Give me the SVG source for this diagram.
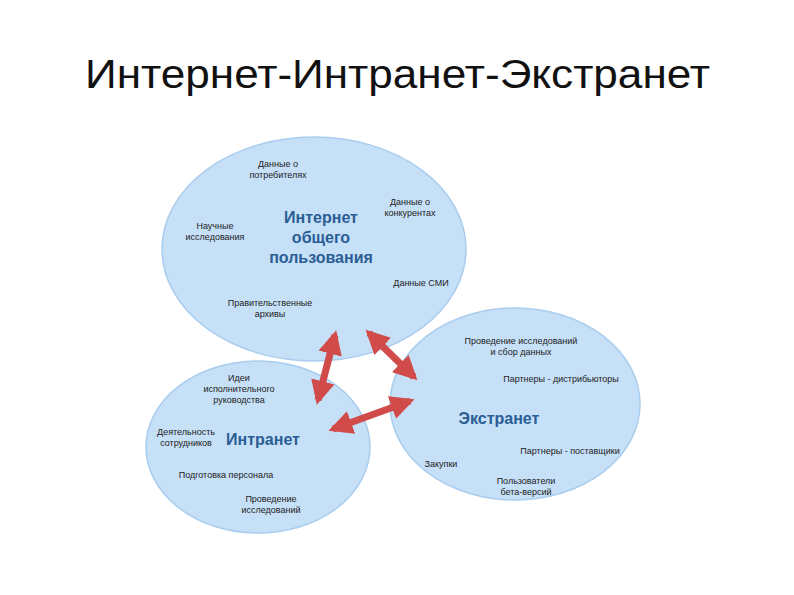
<svg xmlns="http://www.w3.org/2000/svg" width="794" height="595" viewBox="0 0 794 595">
<style>
.e{fill:#c6e0f8;stroke:#a9cdee;stroke-width:1.5}
.t{font-family:"Liberation Sans",Arial,sans-serif;font-size:9px;fill:#222;text-anchor:middle}
.h{font-family:"Liberation Sans",Arial,sans-serif;font-size:16px;font-weight:bold;fill:#2a5d94;text-anchor:middle}
.a{stroke:#d24b4b;stroke-width:7;fill:none;marker-start:url(#m);marker-end:url(#m)}
</style>
<defs><marker id="m" viewBox="0 0 10 10" refX="8" refY="5" markerWidth="24" markerHeight="24" markerUnits="userSpaceOnUse" orient="auto-start-reverse"><path d="M0,0L10,5L0,10z" fill="#d24b4b"/></marker></defs>
<rect width="794" height="595" fill="#fff"/>
<text x="85" y="88" font-family="Liberation Sans,Arial,sans-serif" font-size="40" textLength="625" lengthAdjust="spacingAndGlyphs" fill="#111">Интернет-Интранет-Экстранет</text>
<g id="internet"><ellipse class="e" cx="314" cy="249" rx="152" ry="112"/>
<text class="h" x="321" y="223">Интернет</text><text class="h" x="321" y="243">общего</text><text class="h" x="321" y="263">пользования</text>
<text class="t" x="278" y="167">Данные о</text><text class="t" x="278" y="178">потребителях</text>
<text class="t" x="410" y="205">Данные о</text><text class="t" x="410" y="216">конкурентах</text>
<text class="t" x="215" y="229">Научные</text><text class="t" x="215" y="240">исследования</text>
<text class="t" x="421" y="286">Данные СМИ</text>
<text class="t" x="270" y="306">Правительственные</text><text class="t" x="270" y="317">архивы</text></g>
<g id="intranet"><ellipse class="e" cx="258" cy="447" rx="112" ry="86"/>
<text class="h" x="263" y="445">Интранет</text>
<text class="t" x="239" y="381">Идеи</text><text class="t" x="239" y="392">исполнительного</text><text class="t" x="239" y="403">руководства</text>
<text class="t" x="186" y="435">Деятельность</text><text class="t" x="186" y="446">сотрудников</text>
<text class="t" x="226" y="478">Подготовка персонала</text>
<text class="t" x="271" y="502">Проведение</text><text class="t" x="271" y="513">исследований</text></g>
<g id="extranet"><ellipse class="e" cx="515" cy="404" rx="125" ry="96"/>
<text class="h" x="499" y="424">Экстранет</text>
<text class="t" x="521" y="344">Проведение исследований</text><text class="t" x="521" y="355">и сбор данных</text>
<text class="t" x="561" y="382">Партнеры - дистрибьюторы</text>
<text class="t" x="570" y="454">Партнеры - поставщики</text>
<text class="t" x="441" y="467">Закупки</text>
<text class="t" x="526" y="484">Пользователи</text><text class="t" x="526" y="495">бета-версий</text></g>
<g id="connectors">
<line class="a" x1="335" y1="335" x2="318" y2="400"/>
<line class="a" x1="369" y1="333" x2="414" y2="377"/>
<line class="a" x1="333" y1="429" x2="410" y2="401"/>
</g>
</svg>
